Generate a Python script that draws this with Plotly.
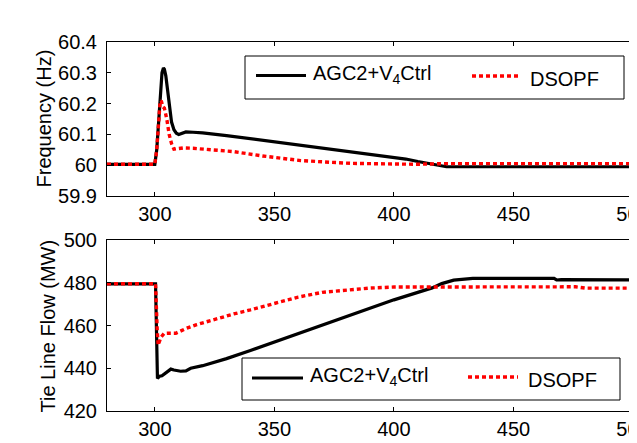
import plotly.graph_objects as go
from plotly.subplots import make_subplots

# ---- data ----
t_agc_f = [280, 300, 300.8, 301.5, 302.3, 303.0, 303.6, 304.0, 304.6, 305.3, 306.0, 307.0, 308.0, 309.0, 310.0,
           311.5, 313, 316, 320, 330, 340, 350, 361, 370, 380, 390, 400, 405, 410, 415, 418, 422, 460, 500]
f_agc = [60.003, 60.003, 60.05, 60.14, 60.24, 60.30, 60.316, 60.312, 60.29, 60.24, 60.19, 60.14, 60.115, 60.104, 60.100,
         60.104, 60.108, 60.107, 60.105, 60.096, 60.086, 60.075, 60.064, 60.055, 60.045, 60.036, 60.026, 60.020, 60.012, 60.005, 60.000, 59.995, 59.995, 59.995]

t_ds_f = [280, 300, 300.8, 301.5, 302.2, 302.7, 303.3, 304.0, 305.0, 306.0, 307.0, 308.0, 310, 312, 316, 320, 333,
          345, 361, 370, 382, 400, 410, 420, 500]
f_ds = [60.003, 60.003, 60.05, 60.14, 60.205, 60.21, 60.19, 60.185, 60.15, 60.10, 60.07, 60.052, 60.054, 60.056, 60.055, 60.053, 60.044,
        60.030, 60.015, 60.011, 60.006, 60.004, 60.003, 60.005, 60.005]

t_agc_p = [280, 300.3, 301.1, 302, 303, 304, 305, 306.7, 308, 310.8, 313, 315, 320, 323.3, 330, 340, 350, 360, 370,
           380, 390, 400, 410, 416, 420, 425, 433, 467, 468, 470, 500]
p_agc = [479.5, 479.5, 435.2, 436.3, 436.5, 437.4, 438.0, 439.6, 439.2, 438.6, 438.8, 440.0, 441.2, 442.2, 444.5, 448.3, 452.3, 456.3, 460.3,
         464.2, 468.2, 472.0, 475.5, 477.6, 479.6, 481.2, 482.0, 482.0, 481.3, 481.5, 481.3]

t_ds_p = [280, 300.3, 301.0, 301.4, 302.5, 303.9, 306, 308.8, 310, 313, 317.5, 324.6, 333, 340, 350, 360, 370, 381.7,
          390, 400, 420, 476, 480, 500]
p_ds = [479.5, 479.5, 458.0, 450.8, 454.4, 456.3, 456.4, 456.4, 457.0, 458.6, 460.4, 462.8, 465.4, 467.3, 470.5, 473.3, 475.5, 476.7,
        477.5, 478.0, 478.1, 478.1, 477.5, 477.5]

freq_ticks = [59.9, 60.0, 60.1, 60.2, 60.3, 60.4]
freq_labels = ["59.9", "60", "60.1", "60.2", "60.3", "60.4"]
flow_ticks = [420, 440, 460, 480, 500]
time_ticks = [300, 350, 400, 450, 500]

name_agc = "AGC2+V<sub>4</sub>Ctrl"
name_ds = "DSOPF"

# ---- layout geometry (page pixels; the page body has an 8px margin) ----
OFF = 8
PL, PR, PT, PB = 107, 633, 42, 411          # plot area on the page
W, H = 637 - OFF, 443 - OFF
L, R, T, B = PL - OFF, 637 - PR, PT - OFF, H - (PB - OFF)


def fx(px):
    return (px - PL) / (PR - PL)


def fy(py):
    return (PB - py) / (PB - PT)


FONT = "Arial, Liberation Sans, sans-serif"
TXT = dict(family=FONT, size=20, color="black")
fig = make_subplots(rows=2, cols=1, vertical_spacing=0.0)

black = dict(color="black", width=3.2)
red = dict(color="#ff0000", width=3.4, dash="4px,3px")

fig.add_trace(go.Scatter(x=t_agc_f, y=f_agc, mode="lines", line=black, name=name_agc, showlegend=False), 1, 1)
fig.add_trace(go.Scatter(x=t_ds_f, y=f_ds, mode="lines", line=red, name=name_ds, showlegend=False), 1, 1)
fig.add_trace(go.Scatter(x=t_agc_p, y=p_agc, mode="lines", line=black, name=name_agc, showlegend=False), 2, 1)
fig.add_trace(go.Scatter(x=t_ds_p, y=p_ds, mode="lines", line=red, name=name_ds, showlegend=False), 2, 1)

ax = dict(showline=True, linecolor="black", linewidth=1, mirror="ticks", ticks="inside", ticklen=4,
          tickcolor="black", showgrid=False, zeroline=False, ticklabeloverflow="allow", automargin=False,
          tickfont=TXT)

fig.update_xaxes(**ax, range=[280, 500], tickvals=time_ticks)
fig.update_yaxes(**ax, ticklabelstandoff=5)
fig.update_yaxes(range=[59.9, 60.4], tickvals=freq_ticks, ticktext=freq_labels, domain=[fy(196), 1.0], row=1, col=1)
fig.update_yaxes(range=[420, 500], tickvals=flow_ticks, domain=[0.0, fy(240)], row=2, col=1)

# axis titles
fig.add_annotation(text="Frequency (Hz)", textangle=-90, xref="paper", yref="paper",
                   x=fx(43.5), y=fy(119), showarrow=False, xanchor="center", yanchor="middle", font=TXT)
fig.add_annotation(text="Tie Line Flow (MW)", textangle=-90, xref="paper", yref="paper",
                   x=fx(47.5), y=fy(326), showarrow=False, xanchor="center", yanchor="middle", font=TXT)
fig.add_annotation(text="Time (s)", xref="paper", yref="paper", x=fx(367), y=fy(438.5),
                   showarrow=False, xanchor="center", yanchor="top", font=TXT)

# legend boxes (MATLAB style, one per panel)
legends = [
    dict(box=(245, 624, 56, 99), ls=(256, 306, 75.5), lt=(311, 74), rs=(472, 521, 76), rt=(528, 79)),
    dict(box=(242, 620, 358, 400), ls=(252, 303, 378), lt=(308, 376), rs=(468, 518, 377), rt=(526, 380)),
]
for lg in legends:
    x0, x1, y0, y1 = lg["box"]
    fig.add_shape(type="rect", xref="paper", yref="paper", x0=fx(x0), x1=fx(x1), y0=fy(y1), y1=fy(y0),
                  line=dict(color="black", width=1), fillcolor="white", layer="above")
    a, b, y = lg["ls"]
    fig.add_shape(type="line", xref="paper", yref="paper", x0=fx(a), x1=fx(b), y0=fy(y), y1=fy(y),
                  line=black, layer="above")
    a, b, y = lg["rs"]
    fig.add_shape(type="line", xref="paper", yref="paper", x0=fx(a), x1=fx(b), y0=fy(y), y1=fy(y),
                  line=red, layer="above")
    tx, ty = lg["lt"]
    fig.add_annotation(text=name_agc, xref="paper", yref="paper", x=fx(tx), y=fy(ty), showarrow=False,
                       xanchor="left", yanchor="middle", font=TXT)
    tx, ty = lg["rt"]
    fig.add_annotation(text=name_ds, xref="paper", yref="paper", x=fx(tx), y=fy(ty), showarrow=False,
                       xanchor="left", yanchor="middle", font=TXT)

fig.update_layout(width=W, height=H, margin=dict(l=L, r=R, t=T, b=B), plot_bgcolor="white",
                  paper_bgcolor="white", font=TXT, showlegend=False)

fig.write_html("out.html")
